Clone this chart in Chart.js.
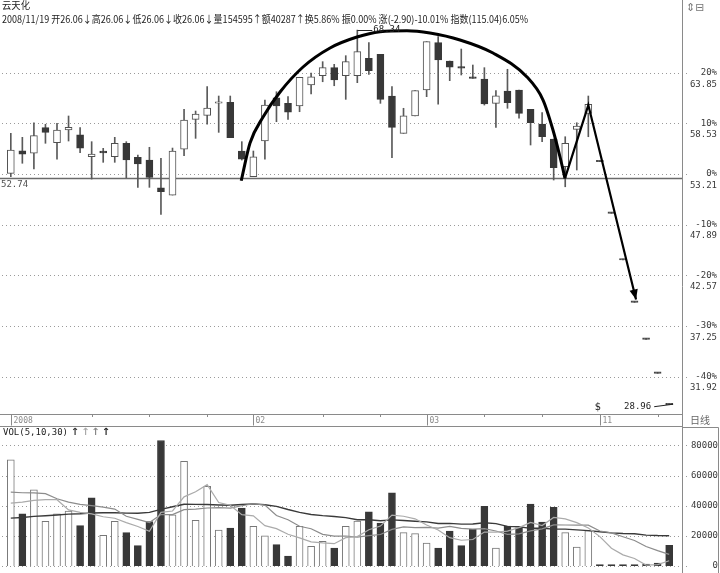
<!DOCTYPE html>
<html><head><meta charset="utf-8">
<script src="https://cdn.jsdelivr.net/npm/chart.js@4.4.0/dist/chart.umd.min.js"></script>
<style>
html,body{margin:0;padding:0;background:#fff;}
#wrap{position:relative;width:720px;height:573px;overflow:hidden;background:#fff;}
#c{position:absolute;left:0;top:0;}
.t{position:absolute;font-family:"Noto Sans CJK SC","DejaVu Sans",sans-serif;color:#222;white-space:nowrap;line-height:1;transform-origin:0 0;}
</style></head><body>
<div id="wrap">
<canvas id="c" width="720" height="573" style="width:720px;height:573px"></canvas>
<div class="t" id="title" style="left:2px;top:0px;font-size:10px;">云天化</div>
<div class="t" id="info" style="left:2px;top:14px;font-size:10px;">2008/11/19 开26.06↓高26.06↓低26.06↓收26.06↓量154595↑额40287↑换5.86% 振0.00% 涨(-2.90)-10.01% 指数(115.04)6.05%</div>
<div class="t" id="icon" style="left:686px;top:2px;font-size:11px;color:#777;font-family:'DejaVu Sans',sans-serif;">⇕⊟</div>
</div>
<script>
// ---------- data ----------
const opens  = [53.28,55.66,55.39,58.08,56.50,57.84,57.34,55.03,55.63,55.03,
                56.44,54.97,54.68,51.77,51.00,55.81,58.96,59.38,60.65,60.75,
                55.63,52.93,56.68,61.23,60.64,60.36,62.57,63.55,64.39,63.55,
                63.55,65.37,65.79,61.41,57.49,59.31,62.04,67.02,65.09,64.41,
                63.44,63.20,60.64,61.94,62.04,60.01,58.47,56.89,53.98,57.91,
                59.59,54.50,49.08,44.17,39.72,35.83,32.26,28.96];
const highs  = [57.49,57.07,58.60,58.44,58.54,59.31,58.08,56.61,55.91,57.07,
                56.61,55.21,56.02,54.86,55.94,60.01,59.83,62.39,61.41,61.41,
                56.61,55.63,60.99,61.86,61.34,63.38,63.83,65.02,64.74,65.65,
                68.34,67.02,65.79,62.39,60.12,61.97,67.12,67.65,65.09,66.35,
                64.67,64.39,61.97,64.22,62.04,60.01,59.66,56.89,57.13,58.60,
                61.41,54.50,49.08,44.17,39.72,35.83,32.26,28.96];
const lows   = [52.93,54.34,53.74,56.44,54.76,56.68,55.45,52.68,54.44,54.44,
                52.82,51.81,51.81,48.97,51.00,55.13,56.96,58.44,57.59,57.03,
                54.68,52.93,54.76,58.71,58.96,59.76,61.62,62.91,62.49,61.06,
                62.81,63.69,60.64,54.92,57.49,59.31,61.34,60.54,63.02,63.62,
                63.27,60.46,58.12,60.12,59.07,56.26,56.61,52.58,51.87,53.63,
                57.13,54.50,49.08,44.17,39.72,35.83,32.26,28.96];
const closes = [55.73,55.31,57.24,57.59,57.84,58.12,55.94,55.31,55.42,56.44,
                54.68,54.26,52.86,51.35,55.63,58.89,59.52,60.15,60.75,57.03,
                54.76,55.03,60.46,60.36,59.70,63.38,63.44,64.39,63.09,65.02,
                66.07,64.07,61.06,58.12,59.34,61.97,67.12,65.20,64.43,64.35,
                63.27,60.57,61.44,60.71,59.59,58.60,57.13,53.87,56.44,58.26,
                60.54,54.50,49.08,44.17,39.72,35.83,32.26,28.96];
const volumes = [70500,34700,50600,29600,34700,36400,26750,45300,20300,29600,
                 22100,13500,29400,83250,34000,69500,30250,52800,23850,25200,
                 38400,26300,20100,14150,6600,26300,13050,16350,11900,26300,
                 29800,36000,28500,48600,22100,21450,15250,11900,23200,13500,
                 24300,39550,11900,26500,25400,41050,29150,38900,22100,12600,
                 23450,500,300,300,400,1300,2000,13700];
const volMa5  = [41700,42400,43500,44000,44000,37200,35600,34600,32700,31700,
                 28800,26200,23000,35600,36500,45900,49300,54000,42100,40300,
                 34100,33300,26800,24800,21100,18700,16000,15300,14800,18800,
                 19500,24100,26500,33800,33000,31300,27200,23900,18800,17100,
                 17600,22500,22500,23200,25500,28900,26800,32200,31300,28800,
                 25200,19500,11800,7400,5000,600,900,3500];
const volMa10 = [49000,48600,48500,48000,44600,42400,40900,40000,39100,37800,
                 33000,30900,28800,34100,34100,37400,37700,38500,38800,38400,
                 40000,41300,40400,33500,30700,26400,24700,21000,19800,19900,
                 19100,20100,20900,24300,25900,25400,25600,25200,26300,25000,
                 24500,24800,23200,21000,21300,23300,24600,27300,27200,27100,
                 27100,23200,22000,19400,16900,12900,10200,7700];
const volMa30 = [31800,32200,32900,33300,33800,34400,34700,35200,35300,35300,
                 35100,35000,35600,37600,39300,41000,40900,40800,40500,40300,
                 40800,41200,40600,39600,37500,35600,34200,33400,32800,32100,
                 30700,30700,30000,30600,30200,29700,29300,28200,28300,27800,
                 27900,28700,28100,26300,26000,25000,25000,24500,24500,24000,
                 23500,22700,22000,21600,21400,20500,20200,20100];
// time axis ticks (day index) and their labels
const axisTickIdx  = [0,7,12,17,21,27,32,36,41,46,51,56];
const axisTickText = ['2008','','','','02','','','03','','','11',''];
// price gridlines and right-axis labels
const priceGridValues = [63.85,58.53,53.21,47.89,42.57,37.25,31.92];
const priceGridText   = ['63.85','58.53','53.21','47.89','42.57','37.25','31.92'];
const pctGridText     = ['20%','10%','0%','-10%','-20%','-30%','-40%'];
const refLineValue = 52.74;
// volume gridlines
const volGridValues = [80000,60000,40000,20000,0];
const volGridText   = ['80000','60000','40000','20000','0'];
// hand-drawn annotations in data space (day index, price)
const arcX = [19.95,20.71,21.84,23.31,25.30,27.64,29.97,31.97,34.30,36.29,38.89,41.75,44.69,46.08,46.94,47.55,47.98];
const arcY = [52.50,56.47,59.20,61.83,64.46,66.46,67.61,68.17,68.28,68.03,67.30,65.93,63.41,60.99,57.84,55.00,52.75];
const zigX = [47.98,50.00,54.13];
const zigY = [52.75,60.46,40.03];
const eventMarkIdx = 51;

// ---------- build ----------
const n = closes.length;
const idx = closes.map((_, i) => i);
const UP_FILL = '#ffffff', UP_LINE = '#505050', DN = '#383838', WICK = '#5a5a5a';
const bodyBg = idx.map(i => closes[i] > opens[i] ? UP_FILL : (closes[i] === opens[i] ? '#444' : DN));
const bodyBd = idx.map(i => closes[i] > opens[i] ? UP_LINE : (closes[i] === opens[i] ? '#444' : DN));
const volUp  = idx.map(i => i === 0 ? closes[0] >= opens[0] : closes[i] >= closes[i-1]);
const volBg  = volUp.map(u => u ? '#ffffff' : DN);
const volBd  = volUp.map(u => u ? '#777777' : DN);

const PX_LEFT = 0, PX_RIGHT = 682;

const deco = {
  id: 'deco',
  beforeDatasetsDraw(chart) {
    const {ctx, scales: {x, y, yv}} = chart;
    ctx.save();
    ctx.lineWidth = 1;
    ctx.strokeStyle = '#9a9a9a';
    ctx.setLineDash([1, 3]);
    priceGridValues.forEach(v => {
      const py = Math.round(y.getPixelForValue(v)) + 0.5;
      ctx.beginPath(); ctx.moveTo(2, py); ctx.lineTo(689, py); ctx.stroke();
    });
    volGridValues.forEach(v => {
      const py = Math.round(yv.getPixelForValue(v)) + 0.5;
      ctx.beginPath(); ctx.moveTo(2, py); ctx.lineTo(687, py); ctx.stroke();
    });
    ctx.setLineDash([]);
    const ry = y.getPixelForValue(refLineValue);
    ctx.strokeStyle = '#6a6a6a'; ctx.lineWidth = 1.6;
    ctx.beginPath(); ctx.moveTo(0, ry); ctx.lineTo(PX_RIGHT, ry); ctx.stroke();
    ctx.restore();
  },
  afterDatasetsDraw(chart) {
    const {ctx, scales: {x, y, yv}} = chart;
    ctx.save();
    const ax1 = x.getPixelForValue(zigX[1]), ay1 = y.getPixelForValue(zigY[1]);
    const ax2 = x.getPixelForValue(zigX[2]), ay2 = y.getPixelForValue(zigY[2]);
    const ang = Math.atan2(ay2 - ay1, ax2 - ax1);
    const L = 10, W = 4.2;
    ctx.fillStyle = '#000';
    ctx.beginPath();
    ctx.moveTo(ax2, ay2);
    ctx.lineTo(ax2 - L*Math.cos(ang) + W*Math.sin(ang), ay2 - L*Math.sin(ang) - W*Math.cos(ang));
    ctx.lineTo(ax2 - L*Math.cos(ang) - W*Math.sin(ang), ay2 - L*Math.sin(ang) + W*Math.cos(ang));
    ctx.closePath(); ctx.fill();

    ctx.strokeStyle = '#8a8a8a'; ctx.lineWidth = 1;
    ctx.beginPath(); ctx.moveTo(PX_RIGHT + 0.5, 0); ctx.lineTo(PX_RIGHT + 0.5, 573); ctx.stroke();
    ctx.beginPath(); ctx.moveTo(0, 414.5); ctx.lineTo(PX_RIGHT, 414.5); ctx.stroke();
    ctx.beginPath(); ctx.moveTo(0, 426.5); ctx.lineTo(PX_RIGHT, 426.5); ctx.stroke();
    ctx.beginPath(); ctx.moveTo(PX_RIGHT, 427.5); ctx.lineTo(718.5, 427.5); ctx.lineTo(718.5, 573); ctx.stroke();

    ctx.fillStyle = '#3a3a3a';
    ctx.font = '9px "DejaVu Sans Mono", monospace';
    ctx.textAlign = 'right'; ctx.textBaseline = 'middle';
    priceGridValues.forEach((v, k) => {
      const py = y.getPixelForValue(v);
      ctx.fillText(pctGridText[k], 717, py);
      ctx.fillText(priceGridText[k], 717, py + 11.5);
    });
    volGridValues.forEach((v, k) => {
      const py = yv.getPixelForValue(v);
      ctx.fillText(volGridText[k], 718, py);
    });
    ctx.textAlign = 'left'; ctx.fillStyle = '#505050';
    ctx.fillText(refLineValue.toFixed(2), 1, y.getPixelForValue(refLineValue) + 6.5);

    ctx.strokeStyle = '#8a8a8a'; ctx.fillStyle = '#8a8a8a';
    ctx.font = '8px "DejaVu Sans Mono", monospace';
    axisTickIdx.forEach((t, k) => {
      const px = Math.round(x.getPixelForValue(t)) + 0.5;
      ctx.beginPath(); ctx.moveTo(px, 414.5); ctx.lineTo(px, 417); ctx.stroke();
      if (axisTickText[k]) {
        ctx.beginPath(); ctx.moveTo(px, 416); ctx.lineTo(px, 425.5); ctx.stroke();
        ctx.textAlign = 'left';
        ctx.fillText(axisTickText[k], px + 2, 420.5);
      }
    });
    ctx.fillStyle = '#666';
    ctx.font = '10px "Noto Sans CJK SC", sans-serif';
    ctx.textAlign = 'left';
    ctx.fillText('日线', 690, 420.5);

    ctx.fillStyle = '#222';
    ctx.font = '9px "DejaVu Sans Mono", monospace';
    ctx.fillText('VOL(5,10,30)', 3, 432.5);
    const arrowCols = ['#333', '#aaa', '#888', '#222'];
    ctx.font = 'bold 10px "DejaVu Sans", sans-serif';
    ctx.textAlign = 'center';
    [75, 85.5, 95.5, 106].forEach((ax, k) => { ctx.fillStyle = arrowCols[k]; ctx.fillText('↑', ax, 432.5); });

    let hi = 0, lo = 0;
    highs.forEach((v, i) => { if (v > highs[hi]) hi = i; });
    lows.forEach((v, i) => { if (v < lows[lo]) lo = i; });
    ctx.strokeStyle = '#222'; ctx.fillStyle = '#222'; ctx.lineWidth = 1;
    ctx.font = '9px "DejaVu Sans Mono", monospace';
    let hx = x.getPixelForValue(hi), hy = Math.round(y.getPixelForValue(highs[hi])) + 0.5;
    ctx.beginPath(); ctx.moveTo(hx, hy); ctx.lineTo(hx + 15, hy); ctx.stroke();
    ctx.textAlign = 'left'; ctx.textBaseline = 'middle';
    ctx.fillText(highs[hi].toFixed(2), hx + 16, hy - 1);
    let lx = x.getPixelForValue(lo), ly = y.getPixelForValue(lows[lo]);
    ctx.beginPath(); ctx.moveTo(lx - 15, ly + 2); ctx.lineTo(lx + 4, ly - 0.5); ctx.stroke();
    ctx.textAlign = 'right';
    ctx.fillText(lows[lo].toFixed(2), lx - 18, ly + 2);
    ctx.font = '10px "DejaVu Sans", sans-serif';
    ctx.textAlign = 'center';
    ctx.fillText('$', x.getPixelForValue(eventMarkIdx) - 2, 407);
    ctx.restore();
  }
};

new Chart(document.getElementById('c'), {
  data: {
    datasets: [
      { type: 'line', label: 'arc', yAxisID: 'y', order: 0,
        data: arcX.map((v, i) => ({x: v, y: arcY[i]})),
        borderColor: '#000', borderWidth: 3, pointRadius: 0, cubicInterpolationMode: 'monotone', fill: false },
      { type: 'line', label: 'zig', yAxisID: 'y', order: 0,
        data: zigX.map((v, i) => ({x: v, y: zigY[i]})),
        borderColor: '#000', borderWidth: 2.2, pointRadius: 0, tension: 0, fill: false },
      { type: 'bar', label: 'body', yAxisID: 'y', order: 2, grouped: false,
        data: idx.map(i => ({x: i, y: [opens[i], closes[i]]})),
        backgroundColor: bodyBg, borderColor: bodyBd, borderWidth: 1, borderSkipped: false,
        barThickness: 7, minBarLength: 1.5 },
      { type: 'bar', label: 'wick', yAxisID: 'y', order: 3, grouped: false,
        data: idx.map(i => ({x: i, y: [lows[i], highs[i]]})),
        backgroundColor: WICK, borderWidth: 0, barThickness: 1, minBarLength: 1 },
      { type: 'line', label: 'MA5', yAxisID: 'yv', order: 1,
        data: idx.map(i => ({x: i, y: volMa5[i]})),
        borderColor: '#ababab', borderWidth: 1.2, pointRadius: 0, tension: 0 },
      { type: 'line', label: 'MA10', yAxisID: 'yv', order: 1,
        data: idx.map(i => ({x: i, y: volMa10[i]})),
        borderColor: '#8c8c8c', borderWidth: 1.2, pointRadius: 0, tension: 0 },
      { type: 'line', label: 'MA30', yAxisID: 'yv', order: 1,
        data: idx.map(i => ({x: i, y: volMa30[i]})),
        borderColor: '#3a3a3a', borderWidth: 1.4, pointRadius: 0, tension: 0 },
      { type: 'bar', label: 'VOL', yAxisID: 'yv', order: 4, grouped: false,
        data: idx.map(i => ({x: i, y: volumes[i]})),
        backgroundColor: volBg, borderColor: volBd, borderWidth: 1, borderSkipped: 'start',
        barThickness: 7, minBarLength: 1.5 }
    ]
  },
  options: {
    responsive: false, animation: false, devicePixelRatio: 1, events: [],
    layout: { padding: { left: PX_LEFT, right: 720 - PX_RIGHT, top: 28, bottom: 7 } },
    plugins: { legend: { display: false }, tooltip: { enabled: false } },
    scales: {
      x: { type: 'linear', min: -0.935, max: 58.11, display: false, bounds: 'data', offset: false, grid: { offset: false } },
      y: { type: 'linear', min: 12.005, max: 68.56, display: false, stacked: false, bounds: 'data' },
      yv: { type: 'linear', position: 'right', min: 0, max: 357000, display: false, stacked: false, bounds: 'data' }
    }
  },
  plugins: [deco]
});

const info = document.getElementById('info');
const w = info.getBoundingClientRect().width;
if (w > 0) info.style.transform = 'scaleX(' + (526 / w) + ')';
const title = document.getElementById('title');
const tw = title.getBoundingClientRect().width;
if (tw > 0) title.style.transform = 'scaleX(' + (28 / tw) + ')';
</script>
</body></html>
